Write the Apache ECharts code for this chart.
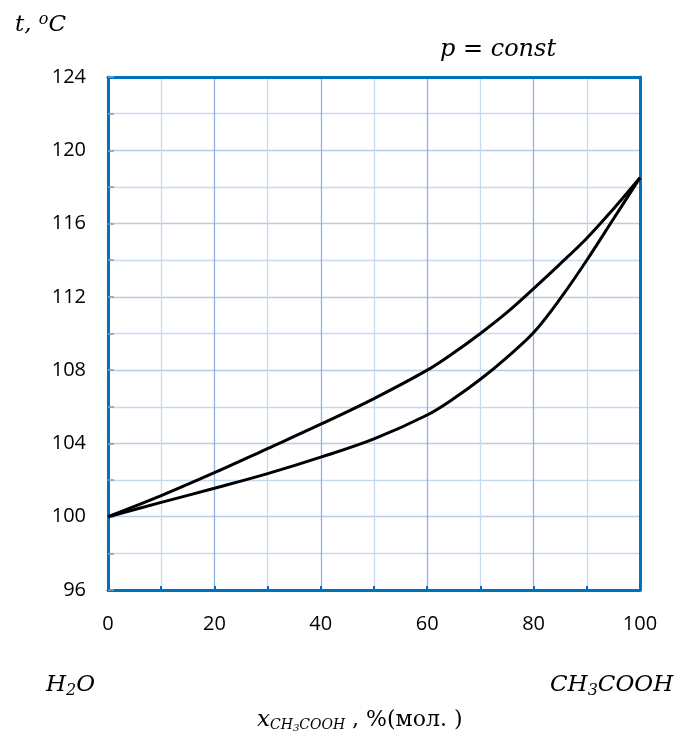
<!DOCTYPE html>
<html><head><meta charset="utf-8">
<script src="https://cdn.jsdelivr.net/npm/echarts@6/dist/echarts.min.js"></script>
<style>html,body{margin:0;padding:0;background:#fff}#c{width:681px;height:743px}</style>
</head><body><div id="c"></div>
<script>
const xTicks = [0, 20, 40, 60, 80, 100];
const yTicks = [96, 100, 104, 108, 112, 116, 120, 124];
const xValues = [0, 10, 20, 30, 40, 50, 60, 65, 70, 75, 80, 85, 90, 95, 100];
const vaporCurve = [100, 101.15, 102.4, 103.72, 105.05, 106.45, 108.0, 108.95, 110.0, 111.15, 112.45, 113.8, 115.2, 116.8, 118.5];
const liquidCurve = [100, 100.78, 101.55, 102.35, 103.25, 104.25, 105.55, 106.45, 107.5, 108.7, 110.05, 111.9, 114.0, 116.25, 118.5];

const chart = echarts.init(document.getElementById('c'));
const pair = (xs, ys) => xs.map((x, i) => [x, ys[i]]);
const lab = {fontFamily: '"Open Sans", sans-serif', fontSize: 20, color: '#000'};
const SER = '"DejaVu Serif", serif';
const it = {fontFamily: SER, fontStyle: 'italic', fontSize: 23, fill: '#000'};
const subS = {fontFamily: SER, fontStyle: 'italic', fontSize: 16, padding: [10, 0, 0, 0]};
const frame = {show: true, lineStyle: {color: '#0070C0', width: 3}};
chart.setOption({
  animation: false,
  grid: {left: 108, top: 77, width: 532, height: 513},
  xAxis: [{
    type: 'value', min: 0, max: 100, interval: 20,
    axisLine: {...frame, onZero: false},
    axisTick: {show: true, inside: true, length: 4, lineStyle: {color: '#0070C0', width: 2}},
    minorTick: {show: true, splitNumber: 2, length: 4, lineStyle: {color: '#0070C0', width: 2}},
    axisLabel: {...lab, margin: 24, formatter: v => xTicks.includes(v) ? String(v) : ''},
    splitLine: {show: true, lineStyle: {color: '#8DB3E2', width: 1.3}},
    minorSplitLine: {show: true, lineStyle: {color: '#C6D9F1', width: 1.3}}
  }, {
    type: 'value', position: 'top', min: 0, max: 100, interval: 20,
    axisLine: {...frame, onZero: false}, axisTick: {show: false}, axisLabel: {show: false}, splitLine: {show: false}
  }],
  yAxis: [{
    type: 'value', min: 96, max: 124, interval: 4,
    axisLine: {...frame, onZero: false},
    axisTick: {show: true, inside: true, length: 6, lineStyle: {color: '#999', width: 1.5}},
    minorTick: {show: true, splitNumber: 2, length: 6, lineStyle: {color: '#999', width: 1.5}},
    axisLabel: {...lab, margin: 22, formatter: v => yTicks.includes(v) ? String(v) : ''},
    splitLine: {show: true, lineStyle: {color: '#B8CCE4', width: 1.3}},
    minorSplitLine: {show: true, lineStyle: {color: '#C6D9F1', width: 1.3}}
  }, {
    type: 'value', position: 'right', min: 96, max: 124, interval: 4,
    axisLine: {...frame, onZero: false}, axisTick: {show: false}, axisLabel: {show: false}, splitLine: {show: false}
  }],
  series: [
    {type: 'line', data: pair(xValues, vaporCurve), smooth: 0.35, showSymbol: false, lineStyle: {color: '#000', width: 3}, z: 5},
    {type: 'line', data: pair(xValues, liquidCurve), smooth: 0.35, showSymbol: false, lineStyle: {color: '#000', width: 3}, z: 5}
  ],
  graphic: [
    {type: 'text', left: 15, top: 12, style: {text: 't, {sup|o}C', ...it, rich: {sup: {fontFamily: SER, fontStyle: 'italic', fontSize: 16, verticalAlign: 'bottom', padding: [0, 0, 10, 0]}}}},
    {type: 'text', left: 440, top: 38, style: {text: 'p = const', ...it, fontSize: 24}},
    {type: 'text', left: 46, top: 674, style: {text: 'H{s|2}O', ...it, rich: {s: subS}}},
    {type: 'text', left: 550, top: 674, style: {text: 'CH{s|3}COOH', ...it, rich: {s: subS}}},
    {type: 'text', left: 257, top: 709, style: {text: '{x|x}{s|CH}{ss|3}{s|COOH} , %(мол. )', fontFamily: SER, fontSize: 22, fill: '#000',
      rich: {x: {fontFamily: SER, fontStyle: 'italic', fontSize: 23},
             s: {fontFamily: SER, fontStyle: 'italic', fontSize: 14, padding: [10, 0, 0, 0]},
             ss: {fontFamily: SER, fontStyle: 'italic', fontSize: 10, padding: [16, 0, 0, 0]}}}}
  ]
});
</script></body></html>
